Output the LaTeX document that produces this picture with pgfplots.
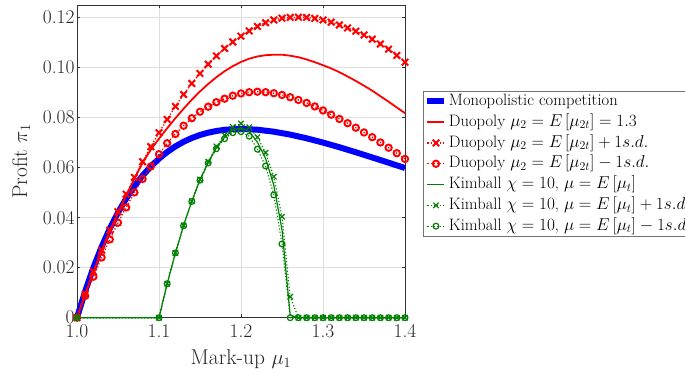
\documentclass[border=0pt]{standalone}
\usepackage{pgfplots}
\usepackage{pgfplotstable}
\pgfplotsset{compat=1.18}
\definecolor{mblue}{rgb}{0,0,1}
\definecolor{mred}{rgb}{1,0,0}
\definecolor{mgreen}{rgb}{0,0.5,0}

\pgfplotstableread{
mu mono
1.00 0
1.01 0.01062
1.02 0.02002
1.03 0.02832
1.04 0.03563
1.05 0.04205
1.06 0.04767
1.07 0.05257
1.08 0.05682
1.09 0.06048
1.10 0.06362
1.11 0.06628
1.12 0.06852
1.13 0.07037
1.14 0.07188
1.15 0.07309
1.16 0.07401
1.17 0.07469
1.18 0.07515
1.19 0.07540
1.20 0.07549
1.22 0.07520
1.24 0.07441
1.26 0.07323
1.28 0.07176
1.30 0.07005
1.32 0.06819
1.34 0.06618
1.36 0.06411
1.38 0.06200
1.40 0.05987
}\monotable

\pgfplotstableread{
mu duo duoP duoM
1.00 0 0 0
1.01 0.0095 0.0094 0.0087
1.02 0.0185 0.0184 0.0164
1.03 0.0268 0.0270 0.0241
1.04 0.0346 0.0350 0.0313
1.05 0.0419 0.0424 0.0380
1.06 0.0489 0.0494 0.0441
1.07 0.0556 0.0561 0.0501
1.08 0.0620 0.0624 0.0555
1.09 0.0672 0.0684 0.0605
1.10 0.0716 0.0740 0.0654
1.11 0.0758 0.0793 0.0698
1.12 0.0798 0.0845 0.0735
1.13 0.0836 0.0893 0.0768
1.14 0.0872 0.0937 0.0798
1.15 0.0905 0.0977 0.0824
1.16 0.0935 0.1014 0.0844
1.17 0.0962 0.1047 0.0862
1.18 0.0986 0.1077 0.0876
1.19 0.1006 0.1103 0.0888
1.20 0.1023 0.1126 0.0897
1.21 0.1036 0.1147 0.0902
1.22 0.1045 0.1165 0.0904
1.23 0.1050 0.1180 0.0902
1.24 0.1052 0.1191 0.0898
1.25 0.1052 0.1198 0.0891
1.26 0.1048 0.1201 0.0882
1.27 0.1042 0.1202 0.0871
1.28 0.1033 0.1201 0.0859
1.29 0.1022 0.1197 0.0845
1.30 0.1010 0.1191 0.0829
1.31 0.0997 0.1182 0.0812
1.32 0.0982 0.1171 0.0795
1.33 0.0965 0.1159 0.0778
1.34 0.0947 0.1146 0.0760
1.35 0.0928 0.1131 0.0741
1.36 0.0908 0.1114 0.0722
1.37 0.0886 0.1095 0.0701
1.38 0.0864 0.1074 0.0680
1.39 0.0841 0.1049 0.0658
1.40 0.0818 0.1022 0.0635
}\duotable

\pgfplotstableread{
mu kim kimP kimM
1.00 0 0 0
1.10 0 0 0
1.11 0.0136 0.0136 0.0136
1.12 0.0259 0.0259 0.0259
1.13 0.0369 0.0369 0.0368
1.14 0.0466 0.0466 0.0465
1.15 0.0551 0.0553 0.0550
1.16 0.0621 0.0624 0.0619
1.17 0.0680 0.0685 0.0676
1.18 0.0722 0.0730 0.0716
1.19 0.0750 0.0763 0.0740
1.20 0.0760 0.0777 0.0744
1.21 0.0745 0.0762 0.0726
1.22 0.0702 0.0722 0.0674
1.23 0.0637 0.0660 0.0607
1.24 0.0530 0.0564 0.0491
1.25 0.0352 0.0404 0.0295
1.26 0.0010 0.0084 0
1.27 0 0 0
1.28 0 0 0
1.29 0 0 0
1.30 0 0 0
1.31 0 0 0
1.32 0 0 0
1.33 0 0 0
1.34 0 0 0
1.35 0 0 0
1.36 0 0 0
1.37 0 0 0
1.38 0 0 0
1.39 0 0 0
1.40 0 0 0
}\kimtable

\begin{document}
\begin{tikzpicture}
\useasboundingbox (0,0) rectangle (685bp,375bp);
\clip (0,0) rectangle (685bp,375bp);
\begin{axis}[
  at={(77bp,57.3bp)}, anchor=south west,
  scale only axis, width=328bp, height=312.5bp,
  xmin=1, xmax=1.4, ymin=0, ymax=0.125,
  clip=false,
  xtick={1,1.1,1.2,1.3,1.4}, xticklabels={1.0,1.1,1.2,1.3,1.4},
  ytick={0,0.02,0.04,0.06,0.08,0.1,0.12},
  yticklabels={0,0.02,0.04,0.06,0.08,0.10,0.12},
  grid=major, major grid style={color=black!13, line width=0.5bp},
  tick align=inside, major tick length=3.3bp,
  tick style={color=black!80, line width=0.5bp},
  axis line style={color=black!80, line width=0.6bp},
  ticklabel style={font=\fontsize{19.5}{22}\selectfont, color=black!85},
  xticklabel style={yshift=-3bp},
  yticklabel style={xshift=1bp},
  label style={font=\fontsize{21.5}{24}\selectfont, color=black!85},
  xlabel={Mark-up $\mu_1$}, ylabel={Profit $\pi_1$},
  xlabel style={at={(axis description cs:0.5,-0.151)}, anchor=base},
  ylabel style={at={(axis description cs:-0.152,0.5)}, anchor=base},
  legend cell align=left,
  legend style={at={(1.054,0.7264)}, anchor=north west,
    draw=black!55, line width=0.5bp, fill=white,
    inner xsep=1.5bp, inner ysep=0bp, row sep=0pt,
    font=\fontsize{16.6}{19}\selectfont,
    nodes={inner xsep=1.5bp, inner ysep=0bp, text height=14.5bp, text depth=6.3bp}},
  legend image code/.code={\draw[mark repeat=2,mark phase=2] plot coordinates {(0bp,0bp) (8.5bp,0bp) (17bp,0bp)};},
]
\addplot[color=mblue, line width=6bp, no marks] table[x=mu,y=mono] {\monotable};
\addlegendentry{Monopolistic competition}
\addplot[color=mred, line width=1.8bp, no marks] table[x=mu,y=duo] {\duotable};
\addlegendentry{Duopoly $\mu_2 = E\left[\mu_{2t}\right] = 1.3$}
\addplot[color=mred, line width=1.4bp, dash pattern={on 1.2bp off 2bp}, mark=x, mark size=4.6bp, mark options={solid, line width=2bp}] table[x=mu,y=duoP] {\duotable};
\addlegendentry{Duopoly $\mu_2 = E\left[\mu_{2t}\right] + 1s.d.$}
\addplot[color=mred, line width=1.4bp, dash pattern={on 1.2bp off 2bp}, mark=o, mark size=3.2bp, mark options={solid, line width=1.9bp}] table[x=mu,y=duoM] {\duotable};
\addlegendentry{Duopoly $\mu_2 = E\left[\mu_{2t}\right] - 1s.d.$}
\addplot[color=mgreen, line width=1.2bp, no marks] table[x=mu,y=kim] {\kimtable};
\addlegendentry{Kimball $\chi = 10$, $\mu = E\left[\mu_t\right]$}
\addplot[color=mgreen, line width=1.1bp, dash pattern={on 1.2bp off 2bp}, mark=x, mark size=3.8bp, mark options={solid, line width=1.2bp}] table[x=mu,y=kimP] {\kimtable};
\addlegendentry{Kimball $\chi = 10$, $\mu = E\left[\mu_t\right] + 1s.d.$}
\addplot[color=mgreen, line width=1.1bp, dash pattern={on 1.2bp off 2bp}, mark=o, mark size=2.9bp, mark options={solid, line width=1.2bp}] table[x=mu,y=kimM] {\kimtable};
\addlegendentry{Kimball $\chi = 10$, $\mu = E\left[\mu_t\right] - 1s.d.$}
\end{axis}
\end{tikzpicture}
\end{document}
